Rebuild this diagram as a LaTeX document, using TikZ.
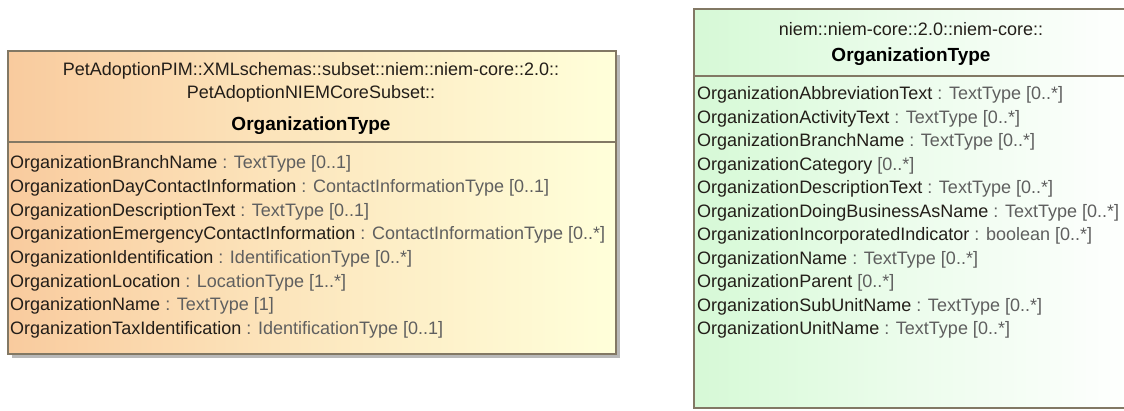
\documentclass[tikz,border=0pt]{standalone}
\usepackage{fontspec}
\setmainfont{Liberation Sans}
\usetikzlibrary{positioning}
\usepackage{xcolor}
\definecolor{peach_color}{RGB}{249,203,158}
\definecolor{cream_color}{RGB}{255,255,218}
\definecolor{mint_color}{RGB}{214,249,214}
\definecolor{frame_color}{RGB}{130,120,100}
\definecolor{name_color}{RGB}{35,30,25}
\definecolor{type_color}{RGB}{95,95,95}
\newcommand{\attype}[1]{\textcolor{type_color}{#1}}

\begin{document}
\begin{tikzpicture}[x=1pt, y=-1pt,
    attr/.style={anchor=west, inner sep=0pt, text=name_color, font=\fontsize{18}{20}\selectfont},
    headline/.style={anchor=center, inner sep=0pt, text=name_color, font=\fontsize{18}{20}\selectfont},
    headname/.style={anchor=center, inner sep=0pt, font=\fontsize{19}{22}\selectfont\bfseries},
    umlbox/.style={inner sep=0pt, outer sep=0pt, anchor=north west},
    frameline/.style={draw=frame_color, line width=1.3pt}]

      \useasboundingbox (0,0) rectangle (1124,410);

      % 1. Caja izquierda (subset)
      \fill[gray!55] (12,55) rectangle (620,358);
      \node[umlbox, frameline, minimum width=608pt, minimum height=303pt,
            left color=peach_color, right color=cream_color, middle color=cream_color!55!peach_color]
            (subsetbox) at (8,51) {};
      \draw[frameline] (8,142) -- (616,142);

      \node[headline] (subsetpath1) at (311,71) {PetAdoptionPIM::XMLschemas::subset::niem::niem-core::2.0::};
      \node[headline] (subsetpath2) at (311,94) {PetAdoptionNIEMCoreSubset::};
      \node[headname] (subsetname) at (311,126) {OrganizationType};

      \node[attr] (sa1) at (10,164) {OrganizationBranchName \attype{: TextType [0..1]}};
      \node[attr] (sa2) at (10,187.7) {OrganizationDayContactInformation \attype{: ContactInformationType [0..1]}};
      \node[attr] (sa3) at (10,211.4) {OrganizationDescriptionText \attype{: TextType [0..1]}};
      \node[attr] (sa4) at (10,235.1) {OrganizationEmergencyContactInformation \attype{: ContactInformationType [0..*]}};
      \node[attr] (sa5) at (10,258.8) {OrganizationIdentification \attype{: IdentificationType [0..*]}};
      \node[attr] (sa6) at (10,282.5) {OrganizationLocation \attype{: LocationType [1..*]}};
      \node[attr] (sa7) at (10,306.2) {OrganizationName \attype{: TextType [1]}};
      \node[attr] (sa8) at (10,330) {OrganizationTaxIdentification \attype{: IdentificationType [0..1]}};

      % 2. Caja derecha (niem-core), cortada por el borde derecho
      \node[umlbox, minimum width=446pt, minimum height=399pt,
            left color=mint_color, right color=white, middle color=mint_color!45]
            (corebox) at (694,9) {};
      \draw[frameline] (corebox.north east) -- (corebox.north west)
            -- (corebox.south west) -- (corebox.south east);
      \draw[frameline] (694,76) -- (1140,76);

      \node[headline] (corepath) at (911,29) {niem::niem-core::2.0::niem-core::};
      \node[headname] (corename) at (911,57) {OrganizationType};

      \node[attr] (ca1) at (697,95) {OrganizationAbbreviationText \attype{: TextType [0..*]}};
      \node[attr] (ca2) at (697,118.5) {OrganizationActivityText \attype{: TextType [0..*]}};
      \node[attr] (ca3) at (697,142) {OrganizationBranchName \attype{: TextType [0..*]}};
      \node[attr] (ca4) at (697,165.5) {OrganizationCategory \attype{[0..*]}};
      \node[attr] (ca5) at (697,189) {OrganizationDescriptionText \attype{: TextType [0..*]}};
      \node[attr] (ca6) at (697,212.5) {OrganizationDoingBusinessAsName \attype{: TextType [0..*]}};
      \node[attr] (ca7) at (697,236) {OrganizationIncorporatedIndicator \attype{: boolean [0..*]}};
      \node[attr] (ca8) at (697,259.5) {OrganizationName \attype{: TextType [0..*]}};
      \node[attr] (ca9) at (697,283) {OrganizationParent \attype{[0..*]}};
      \node[attr] (ca10) at (697,306.5) {OrganizationSubUnitName \attype{: TextType [0..*]}};
      \node[attr] (ca11) at (697,330) {OrganizationUnitName \attype{: TextType [0..*]}};

    \end{tikzpicture}
\end{document}
